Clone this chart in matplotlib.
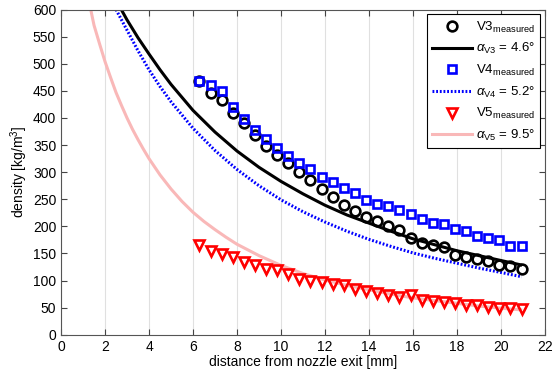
import matplotlib
matplotlib.use('Agg')
import matplotlib.pyplot as plt

plt.rcParams['font.family'] = ['Liberation Sans', 'DejaVu Sans']
plt.rcParams['mathtext.fontset'] = 'custom'
plt.rcParams['mathtext.rm'] = 'Liberation Sans'
plt.rcParams['mathtext.it'] = 'Liberation Sans:italic'

# measured points
dist = [6.29, 6.80, 7.30, 7.81, 8.31, 8.82, 9.32, 9.83, 10.33, 10.84,
        11.34, 11.85, 12.35, 12.86, 13.36, 13.87, 14.37, 14.88, 15.38, 15.89,
        16.39, 16.90, 17.40, 17.91, 18.41, 18.92, 19.42, 19.93, 20.43, 20.94]
v3 = [468, 446, 433, 410, 390, 368, 348, 331, 316, 301,
      285, 269, 254, 240, 229, 217, 209, 201, 193, 179,
      170, 165, 161, 148, 144, 140, 136, 129, 126, 122]
v4 = [469, 461, 450, 421, 399, 378, 362, 344, 330, 317,
      305, 291, 282, 270, 262, 249, 242, 238, 231, 222,
      214, 206, 204, 195, 191, 182, 178, 174, 163, 163]
v5 = [165, 154, 149, 143, 134, 129, 122, 119, 112, 103,
      100, 97, 94, 92, 85, 81, 77, 73, 70, 73,
      64, 63, 60, 58, 55, 54, 51, 49, 49, 48]

# model curves
x_v3 = [2.74, 3, 3.5, 4, 4.5, 5, 6, 7, 8, 9, 10, 11, 12, 13, 14, 15, 16, 17, 18, 19, 20, 20.9]
fit_v3 = [600, 581, 548, 518, 489, 462, 414, 374, 339, 309, 283, 260, 239, 221, 206, 191, 177, 166, 155, 146, 137, 129]
x_v4 = [2.5, 3, 3.5, 4, 4.5, 5, 6, 7, 8, 9, 10, 11, 12, 13, 14, 15, 16, 17, 18, 19, 20, 20.95]
fit_v4 = [600, 562, 524, 489, 458, 430, 381, 340, 305, 275, 249, 227, 208, 191, 176, 163, 151, 141, 132, 123, 115, 107]
x_v5 = [1.35, 1.5, 1.75, 2, 2.25, 2.5, 2.75, 3, 3.25, 3.5, 3.75, 4, 4.5, 5, 5.5, 6, 6.5, 7, 7.5,
        8, 9, 10, 11, 12, 13, 14, 15, 16, 17, 18, 19, 20, 20.9]
fit_v5 = [600, 571, 537, 504, 475, 447, 423, 400, 379, 360, 342, 325, 295, 269, 246, 226, 209, 194, 180,
          167, 146, 128, 113, 101, 91, 83, 75, 68, 63, 58, 53, 49, 46]

fig = plt.figure(figsize=(5.6, 3.83), dpi=100)
ax = fig.add_axes([0.109, 0.126, 0.864, 0.849])

ax.plot(dist, v3, 'o', ms=7, mfc='none', mec='black', mew=1.9, zorder=4,
        label=r'V3$_{\rm measured}$')
ax.plot(x_v3, fit_v3, '-', color='black', lw=2.2, zorder=2,
        label=r'$\alpha_{\rm V3}$ = 4.6°')
ax.plot(dist, v4, 's', ms=5.8, mfc='none', mec='#0000ff', mew=1.9, zorder=5,
        label=r'V4$_{\rm measured}$')
ax.plot(x_v4, fit_v4, color='#0000ff', lw=2.2, linestyle=(0, (0.6, 0.6)), zorder=2,
        label=r'$\alpha_{\rm V4}$ = 5.2°')
ax.plot(dist, v5, 'v', ms=7, mfc='none', mec='#ff0000', mew=1.9, zorder=4,
        label=r'V5$_{\rm measured}$')
ax.plot(x_v5, fit_v5, '-', color='#f9b8b8', lw=2.2, zorder=1,
        label=r'$\alpha_{\rm V5}$ = 9.5°')

ax.set_xlim(0, 22)
ax.set_ylim(0, 600)
ax.set_xticks(range(0, 23, 2))
ax.set_yticks(range(0, 601, 50))
ax.grid(axis='x', color='#e0e0e0', lw=0.8)
ax.set_axisbelow(True)
ax.tick_params(direction='in', top=True, right=True, labelsize=10, length=4,
               color='#444444')
for s in ax.spines.values():
    s.set_color('#555555')

ax.set_xlabel('distance from nozzle exit [mm]', fontsize=10, labelpad=1)
ax.set_ylabel('density [kg/m$^3$]', fontsize=10, labelpad=2)

leg = ax.legend(loc='upper right', numpoints=1, fontsize=9.5, handlelength=3.0,
                fancybox=False, edgecolor='black', framealpha=1,
                borderaxespad=0.35, labelspacing=0.5, handletextpad=0.3,
                borderpad=0.4)
leg.get_frame().set_linewidth(0.8)

fig.savefig('out.png', dpi=100)
